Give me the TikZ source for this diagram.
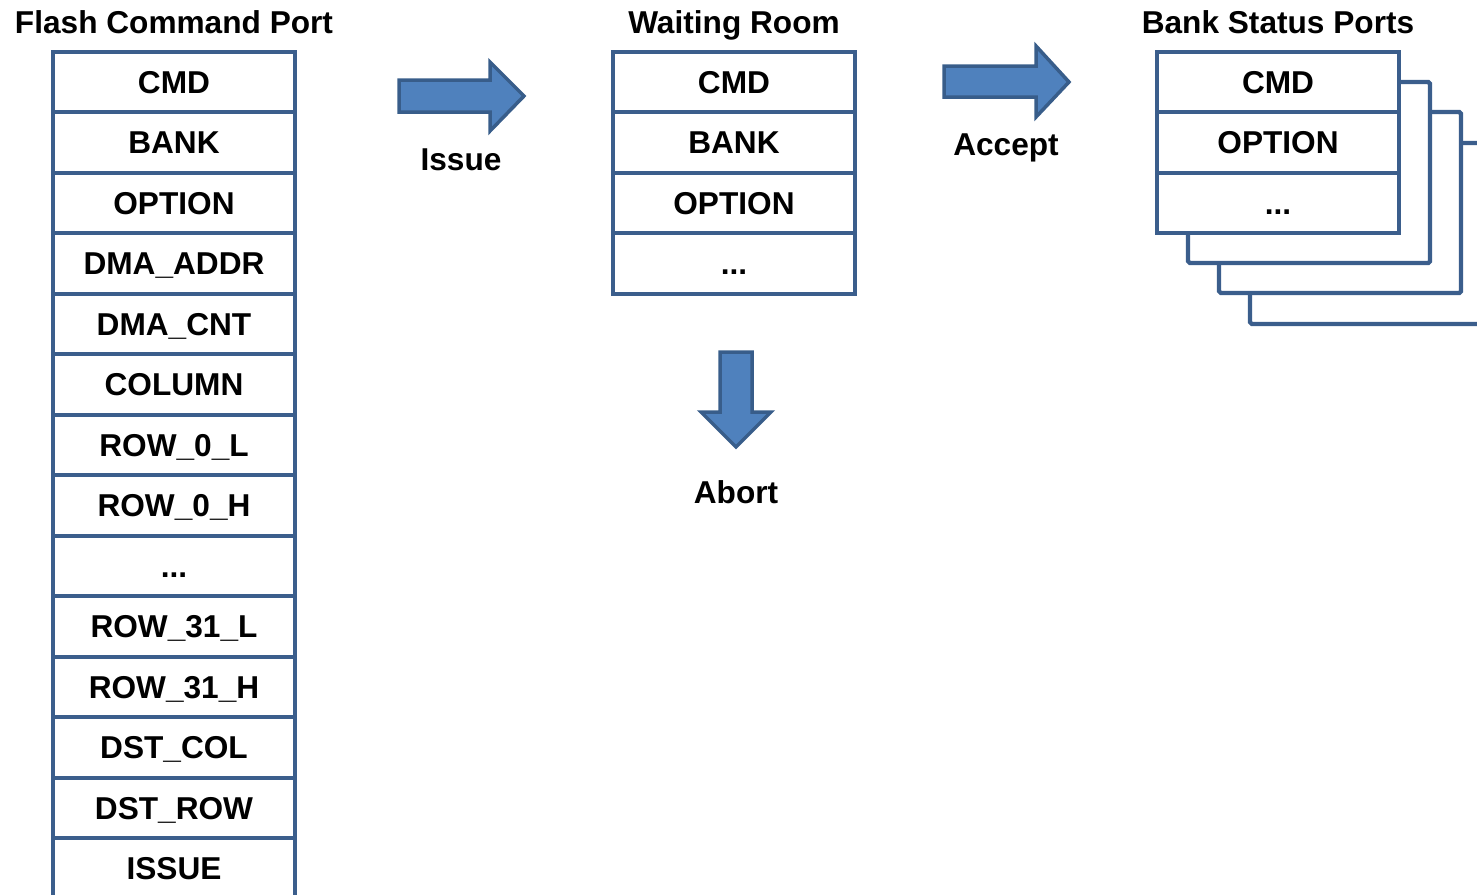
\documentclass[tikz,border=0pt]{standalone}
\usepackage{fontspec}
\setmainfont{Liberation Sans}
\usetikzlibrary{positioning}

\definecolor{portblue}{HTML}{3B5E8C}
\definecolor{arrowfill}{HTML}{4F81BD}
\definecolor{arrowline}{HTML}{385D8A}

\tikzset{
  lbl/.style={font=\fontsize{18}{20}\selectfont\bfseries},
  field/.style={draw=portblue, line width=0.085cm, fill=white,
    minimum width=4.84cm, minimum height=1.21cm, outer sep=0pt,
    inner sep=0pt, text height=12.9pt, text depth=0pt, lbl},
  card/.style={draw=portblue, line width=0.085cm, fill=white, rounded corners=1pt},
  fatarrow/.style={fill=arrowfill, draw=arrowline, line width=0.07cm, line join=miter},
}

\begin{document}
\begin{tikzpicture}[x=0.02cm, y=-0.02cm]
  \useasboundingbox (0,0) rectangle (1477,894);

  % flash command port
  \node [lbl, anchor=base] (fcptitle) at (174,33) {Flash Command Port};
  \node [field] (fcp1) at (174,82) {CMD};
  \node [field, below=0pt of fcp1] (fcp2) {BANK};
  \node [field, below=0pt of fcp2] (fcp3) {OPTION};
  \node [field, below=0pt of fcp3] (fcp4) {DMA\_ADDR};
  \node [field, below=0pt of fcp4] (fcp5) {DMA\_CNT};
  \node [field, below=0pt of fcp5] (fcp6) {COLUMN};
  \node [field, below=0pt of fcp6] (fcp7) {ROW\_0\_L};
  \node [field, below=0pt of fcp7] (fcp8) {ROW\_0\_H};
  \node [field, below=0pt of fcp8] (fcp9) {...};
  \node [field, below=0pt of fcp9] (fcp10) {ROW\_31\_L};
  \node [field, below=0pt of fcp10] (fcp11) {ROW\_31\_H};
  \node [field, below=0pt of fcp11] (fcp12) {DST\_COL};
  \node [field, below=0pt of fcp12] (fcp13) {DST\_ROW};
  \node [field, below=0pt of fcp13] (fcp14) {ISSUE};

  % waiting room
  \node [lbl, anchor=base] (wrtitle) at (734,33) {Waiting Room};
  \node [field] (wr1) at (734,82) {CMD};
  \node [field, below=0pt of wr1] (wr2) {BANK};
  \node [field, below=0pt of wr2] (wr3) {OPTION};
  \node [field, below=0pt of wr3] (wr4) {...};

  % bank status ports, back cards first
  \node [lbl, anchor=base] (bsptitle) at (1278,33) {Bank Status Ports};
  \draw [card] (1250,143) rectangle ++(242,181);
  \draw [card] (1219,112) rectangle ++(242,181);
  \draw [card] (1188,82) rectangle ++(242,181);
  \node [field] (bsp1) at (1278,82) {CMD};
  \node [field, below=0pt of bsp1] (bsp2) {OPTION};
  \node [field, below=0pt of bsp2] (bsp3) {...};

  % block arrows
  \draw [fatarrow] (399,80) -- (490,80) -- (490,62) -- (524,96)
    -- (490,131) -- (490,112) -- (399,112) -- cycle;
  \node [lbl, anchor=base] (issue) at (461,170) {Issue};

  \draw [fatarrow] (944,66) -- (1036,66) -- (1036,46) -- (1069,82)
    -- (1036,117) -- (1036,97) -- (944,97) -- cycle;
  \node [lbl, anchor=base] (accept) at (1006,155) {Accept};

  \draw [fatarrow] (720,352) -- (752,352) -- (752,412) -- (771,412)
    -- (736,447) -- (701,412) -- (720,412) -- cycle;
  \node [lbl, anchor=base] (abort) at (736,503) {Abort};
\end{tikzpicture}
\end{document}
